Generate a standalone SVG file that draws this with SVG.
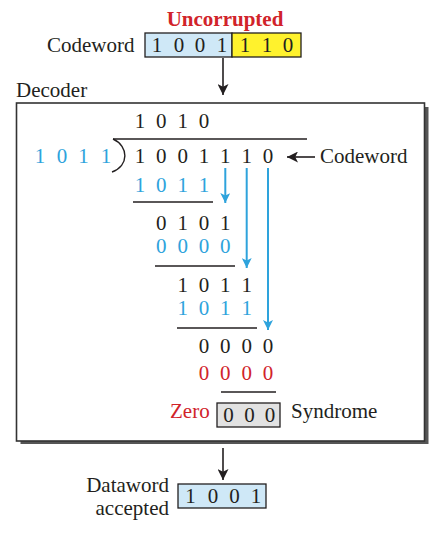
<svg xmlns="http://www.w3.org/2000/svg" width="446" height="536" viewBox="0 0 446 536">
<defs>
<style>
text{font-family:"Liberation Serif","Times New Roman",serif;}
.lbl{font-size:21px;fill:#231f20;}
.d{font-size:21px;fill:#231f20;text-anchor:middle;}
.b{fill:#2ea3dc;}
.r{fill:#d1232a;}
.rule{stroke:#231f20;stroke-width:1.4;fill:none;}
.blk{stroke:#231f20;stroke-width:1.6;fill:none;}
.blu{stroke:#2ea3dc;stroke-width:2;fill:none;}
.box{stroke:#231f20;stroke-width:1.3;}
</style>
<marker id="ak" viewBox="0 0 12 12" refX="12" refY="6" markerWidth="13" markerHeight="11" markerUnits="userSpaceOnUse" orient="auto">
<path d="M0,0 L12,6 L0,12 L3,6 z" fill="#231f20"/>
</marker>
<marker id="ab" viewBox="0 0 12 12" refX="12" refY="6" markerWidth="11" markerHeight="10" markerUnits="userSpaceOnUse" orient="auto">
<path d="M0,0 L12,6 L0,12 L3,6 z" fill="#2ea3dc"/>
</marker>
</defs>
<rect width="446" height="536" fill="#ffffff"/>

<g id="codeword-in">
<text x="225" y="26" text-anchor="middle" style="font-size:21px;font-weight:bold;fill:#d1232a;">Uncorrupted</text>
<text class="lbl" x="47" y="52">Codeword</text>
<rect class="box" x="145" y="33" width="87" height="24" fill="#cfe8f7"/>
<rect class="box" x="232" y="33" width="69" height="24" fill="#fff22d"/>
<text class="d" y="52"><tspan x="157">1</tspan><tspan x="179">0</tspan><tspan x="200">0</tspan><tspan x="222">1</tspan><tspan x="245">1</tspan><tspan x="267">1</tspan><tspan x="288">0</tspan></text>
</g>

<g id="decoder">
<text class="lbl" x="16" y="97">Decoder</text>
<rect x="20.5" y="107" width="408" height="337" fill="#555555"/>
<rect x="16.5" y="103" width="408" height="338" fill="#ffffff" stroke="#333333" stroke-width="1.6"/>
</g>

<g id="division">
<text class="d" y="128"><tspan x="140">1</tspan><tspan x="161.3">0</tspan><tspan x="182.7">1</tspan><tspan x="204">0</tspan></text>
<path class="rule" d="M113,139 H307"/>
<path class="rule" d="M113,139 C129,146 129,166 112,172"/>
<text class="d b" y="163"><tspan x="40">1</tspan><tspan x="62">0</tspan><tspan x="83.5">1</tspan><tspan x="106">1</tspan></text>
<text class="d" y="163"><tspan x="140">1</tspan><tspan x="161.3">0</tspan><tspan x="182.7">0</tspan><tspan x="204">1</tspan><tspan x="225.3">1</tspan><tspan x="246.7">1</tspan><tspan x="268">0</tspan></text>
<text class="lbl" x="320" y="163">Codeword</text>

<text class="d b" y="192"><tspan x="140">1</tspan><tspan x="161.3">0</tspan><tspan x="182.7">1</tspan><tspan x="204">1</tspan></text>
<path class="rule" d="M133,202 H213"/>
<text class="d" y="230"><tspan x="161.3">0</tspan><tspan x="182.7">1</tspan><tspan x="204">0</tspan><tspan x="225.3">1</tspan></text>
<text class="d b" y="253"><tspan x="161.3">0</tspan><tspan x="182.7">0</tspan><tspan x="204">0</tspan><tspan x="225.3">0</tspan></text>
<path class="rule" d="M155,266 H235"/>
<text class="d" y="292"><tspan x="182.7">1</tspan><tspan x="204">0</tspan><tspan x="225.3">1</tspan><tspan x="246.7">1</tspan></text>
<text class="d b" y="315"><tspan x="182.7">1</tspan><tspan x="204">0</tspan><tspan x="225.3">1</tspan><tspan x="246.7">1</tspan></text>
<path class="rule" d="M177,328 H257"/>
<text class="d" y="353"><tspan x="204">0</tspan><tspan x="225.3">0</tspan><tspan x="246.7">0</tspan><tspan x="268">0</tspan></text>
<text class="d r" y="380"><tspan x="204">0</tspan><tspan x="225.3">0</tspan><tspan x="246.7">0</tspan><tspan x="268">0</tspan></text>
<path class="rule" d="M221,392 H276"/>
</g>

<g id="syndrome">
<text class="lbl r" x="170" y="418">Zero</text>
<rect class="box" x="217" y="403" width="63" height="24" fill="#e2e2e2"/>
<text class="d" y="422"><tspan x="228.5">0</tspan><tspan x="249.5">0</tspan><tspan x="270">0</tspan></text>
<text class="lbl" x="291" y="418">Syndrome</text>
</g>

<g id="dataword">
<text class="lbl" x="169" y="492" text-anchor="end">Dataword</text>
<text class="lbl" x="169" y="515" text-anchor="end">accepted</text>
<rect class="box" x="178" y="484" width="88" height="24" fill="#cfe8f7"/>
<text class="d" y="503"><tspan x="190.5">1</tspan><tspan x="213">0</tspan><tspan x="234.5">0</tspan><tspan x="256">1</tspan></text>
</g>

<g id="connectors">
<path class="blk" d="M223,58 V95" marker-end="url(#ak)"/>
<path class="blk" d="M315,157 H287" marker-end="url(#ak)"/>
<path class="blk" d="M223,448 V480" marker-end="url(#ak)"/>
<path class="blu" d="M225.3,168 V203" marker-end="url(#ab)"/>
<path class="blu" d="M246.7,168 V268" marker-end="url(#ab)"/>
<path class="blu" d="M268,168 V330" marker-end="url(#ab)"/>
</g>
</svg>
